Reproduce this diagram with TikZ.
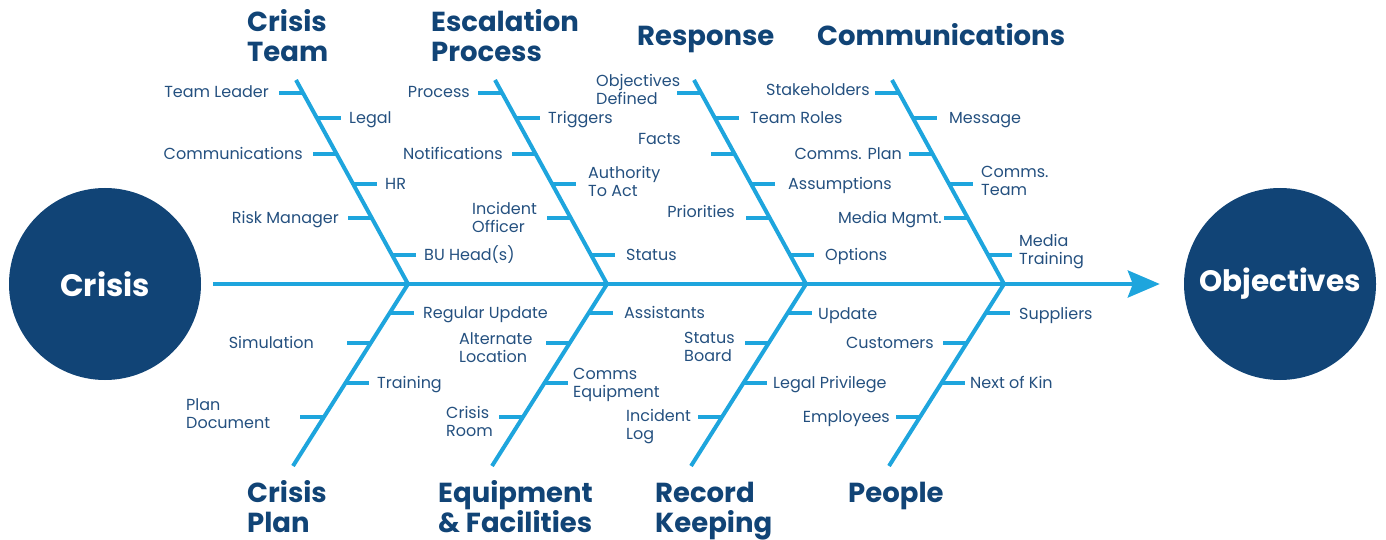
\documentclass[tikz,border=0pt]{standalone}
\usepackage{fontspec}
\setmainfont{Poppins}
\usetikzlibrary{arrows.meta}
\definecolor{navy}{HTML}{114476}
\definecolor{lblc}{HTML}{24507F}
\definecolor{sky}{HTML}{1EA5DD}
\newcommand\ribT[4]{%
  \pgfmathsetmacro\rx{#2-(284-#3)/204*112}%
  \pgfmathsetmacro\ex{\rx+(#4)*24}%
  \coordinate (#1a) at (\rx,#3);
  \coordinate (#1b) at (\ex,#3);
  \draw[ribline] (#1a) -- (#1b);}
\newcommand\ribB[4]{%
  \pgfmathsetmacro\rx{#2-(#3-284)/182*115}%
  \pgfmathsetmacro\ex{\rx+(#4)*24}%
  \coordinate (#1a) at (\rx,#3);
  \coordinate (#1b) at (\ex,#3);
  \draw[ribline] (#1a) -- (#1b);}
\begin{document}
\begin{tikzpicture}[x=1pt,y=-1pt,
  lab/.style={text=lblc, font=\fontsize{16}{18}\selectfont, inner sep=0pt, text height=11.5pt, text depth=0pt},
  labm/.style={text=lblc, font=\fontsize{16}{18}\selectfont, inner sep=0pt, align=left},
  head/.style={text=navy, font=\fontsize{27.5}{30}\selectfont\bfseries, inner sep=0pt, align=left},
  bone/.style={draw=sky, line width=4pt},
  ribline/.style={draw=sky, line width=4pt},
  bigcirc/.style={circle, fill=navy, minimum size=192pt, inner sep=0pt, text=white},
]
\useasboundingbox (0,0) rectangle (1386,540);
% circles
\node[bigcirc, font=\fontsize{31}{34}\selectfont\bfseries] (crisis) at (105,284) {Crisis};
\node[bigcirc, font=\fontsize{29.5}{34}\selectfont\bfseries] (obj) at (1280,284) {Objectives};
% spine
\draw[bone, -{Stealth[length=32pt,width=27pt,inset=5pt]}] ([xshift=12pt]crisis.east) -- ([xshift=-24pt]obj.west);
% branches
\foreach \i/\j in {1/408,2/607,3/806,4/1004}{
  \coordinate (t\i) at (\j-112,80);
  \coordinate (j\i) at (\j,284);
  \coordinate (b\i) at (\j-115,466);
  \draw[bone] (t\i) -- (j\i) -- (b\i);
}
% ribs
\foreach \i/\j in {1/408,2/607,3/806,4/1004}{
  \ribT{r\i x1}{\j}{93}{-1}
  \ribT{r\i x2}{\j}{118}{1}
  \ribT{r\i x3}{\j}{154}{-1}
  \ribT{r\i x4}{\j}{184}{1}
  \ribT{r\i x5}{\j}{218}{-1}
  \ribT{r\i x6}{\j}{255}{1}
  \ribB{s\i x1}{\j}{313}{1}
  \ribB{s\i x2}{\j}{343}{-1}
  \ribB{s\i x3}{\j}{383}{1}
  \ribB{s\i x4}{\j}{417}{-1}
}
% headings
\node[head, anchor=base west] (hct) at (247,62) {Crisis\\Team};
\node[head, anchor=base west] (hep) at (431,62) {Escalation\\Process};
\node[head, anchor=base west] (hr) at (637,46) {Response};
\node[head, anchor=base west] (hc) at (817,46) {Communications};
\node[head, anchor=base west] (hcp) at (247,532) {Crisis\\Plan};
\node[head, anchor=base west] (hef) at (438,532) {Equipment\\\& Facilities};
\node[head, anchor=base west] (hrk) at (655,532) {Record\\Keeping};
\node[head, anchor=base west] (hp) at (848,502) {People};
% labels branch 1 top
\node[lab, anchor=east] (l11) at (269,92) {Team Leader};
\node[lab, anchor=west] (l12) at (349,118) {Legal};
\node[lab, anchor=east] (l13) at (303,154) {Communications};
\node[lab, anchor=west] (l14) at (385,184) {HR};
\node[lab, anchor=east] (l15) at (339,218) {Risk Manager};
\node[lab, anchor=west] (l16) at (424,255) {BU Head(s)};
% branch 2 top
\node[lab, anchor=east] (l21) at (470,92) {Process};
\node[lab, anchor=west] (l22) at (548,118) {Triggers};
\node[lab, anchor=east] (l23) at (503,154) {Notifications};
\node[labm, anchor=west] (l24) at (588,181) {Authority\\To Act};
\node[labm, anchor=west] (l25) at (472,217) {Incident\\Officer};
\node[lab, anchor=west] (l26) at (626,255) {Status};
% branch 3 top
\node[labm, anchor=west] (l31) at (596,89) {Objectives\\Defined};
\node[lab, anchor=west] (l32) at (750,118) {Team Roles};
\node[lab, anchor=east] (l33) at (681,139) {Facts};
\node[lab, anchor=west] (l34) at (788,184) {Assumptions};
\node[lab, anchor=east] (l35) at (735,212) {Priorities};
\node[lab, anchor=west] (l36) at (825,255) {Options};
% branch 4 top
\node[lab, anchor=east] (l41) at (870,90) {Stakeholders};
\node[lab, anchor=west] (l42) at (949,118) {Message};
\node[lab, anchor=east] (l43) at (902,154) {Comms. Plan};
\node[labm, anchor=west] (l44) at (981,181) {Comms.\\Team};
\node[lab, anchor=east] (l45) at (942,218) {Media Mgmt.};
\node[labm, anchor=west] (l46) at (1019,252) {Media\\Training};
% bottom branch 1
\node[lab, anchor=west] (m11) at (423,313) {Regular Update};
\node[lab, anchor=east] (m12) at (314,343) {Simulation};
\node[lab, anchor=west] (m13) at (377,383) {Training};
\node[labm, anchor=west] (m14) at (186,414) {Plan\\Document};
% bottom branch 2
\node[lab, anchor=west] (m21) at (624,313) {Assistants};
\node[labm, anchor=west] (m22) at (459,348) {Alternate\\Location};
\node[labm, anchor=west] (m23) at (573,385) {Comms\\Equipment};
\node[labm, anchor=west] (m24) at (446,421) {Crisis\\Room};
% bottom branch 3
\node[lab, anchor=west] (m31) at (818,314) {Update};
\node[labm, anchor=west] (m32) at (684,347) {Status\\Board};
\node[lab, anchor=west] (m33) at (773,383) {Legal Privilege};
\node[labm, anchor=west] (m34) at (626,427) {Incident\\Log};
% bottom branch 4
\node[lab, anchor=west] (m41) at (1019,314) {Suppliers};
\node[lab, anchor=east] (m42) at (934,343) {Customers};
\node[lab, anchor=west] (m43) at (970,383) {Next of Kin};
\node[lab, anchor=east] (m44) at (890,417) {Employees};
\end{tikzpicture}
\end{document}
